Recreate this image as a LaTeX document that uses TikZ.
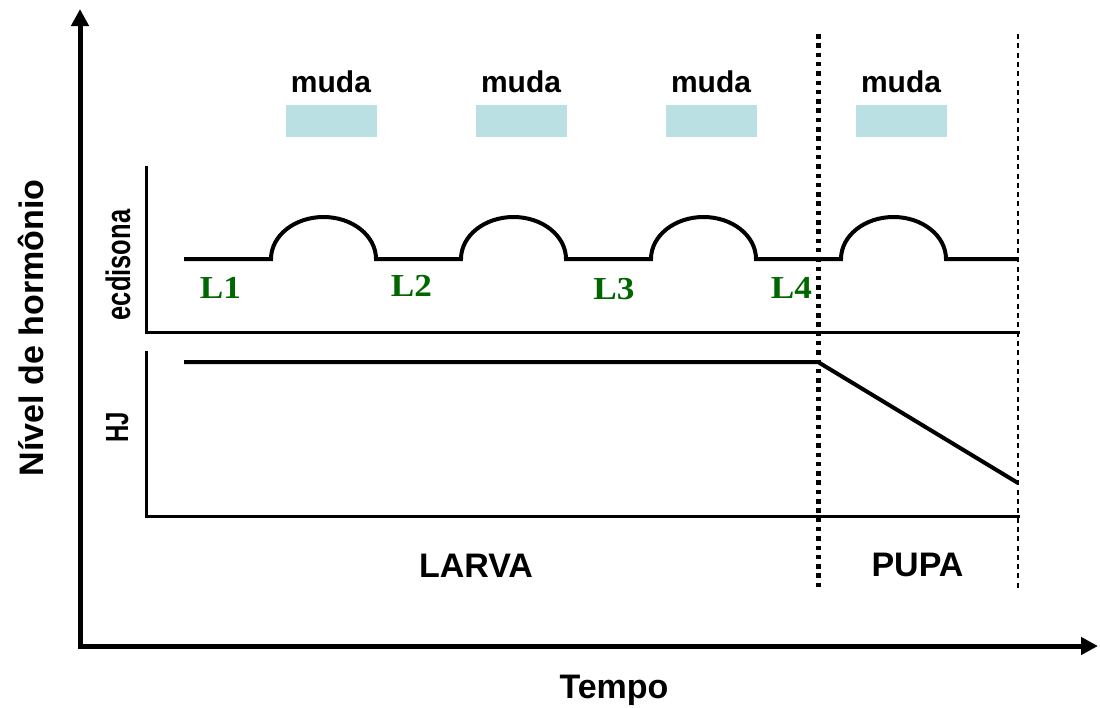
\documentclass[tikz,border=0pt]{standalone}
\usepackage{fontspec}
\setmainfont{Liberation Sans}
\newfontfamily\narrowsans[FakeStretch=0.75]{Liberation Sans}
\newfontfamily\stagefont[FakeStretch=1.1]{Liberation Serif}
\usetikzlibrary{arrows.meta,positioning}
\definecolor{mudablue}{HTML}{BBE0E3}
\definecolor{stagegreen}{HTML}{006600}
\tikzset{
    axis/.style={line width=5pt, -{Triangle[length=17pt,width=17pt]}},
    frame/.style={line width=3pt, line cap=rect},
    curve/.style={line width=4pt},
    mudabox/.style={fill=mudablue, minimum width=91pt, minimum height=32pt, inner sep=0pt},
    stage/.style={text=stagegreen, font=\stagefont\bfseries\fontsize{32}{36}\selectfont, anchor=base},
    bigtext/.style={font=\bfseries\fontsize{34}{40}\selectfont, anchor=base}
}
\begin{document}
\begin{tikzpicture}[x=1pt, y=-1pt]
    \useasboundingbox (0,0) rectangle (1100,707);

    % Main axes
    \coordinate (origin) at (80,646);
    \coordinate (ytop) at (80,9);
    \coordinate (xend) at (1098,646);
    \draw[axis, {Triangle[length=17pt,width=17pt]}-{Triangle[length=17pt,width=17pt]}] (ytop) -- (origin) -- (xend);
    \node[bigtext, rotate=90] (nivel) at (43,328) {Nível de hormônio};
    \node[bigtext] (tempo) at (614,698) {Tempo};

    % Molts
    \foreach \i in {0,...,3} {
        \node[mudabox] (box\i) at (331.5+190*\i,121) {};
        \node[font=\bfseries\fontsize{30}{36}\selectfont, anchor=base] (muda\i) at (331+190*\i,92) {muda};
    }

    % Ecdysone panel
    \draw[frame] (146,167) -- (146,332) -- (1018,332);
    \node[font=\narrowsans\bfseries\fontsize{34}{40}\selectfont, rotate=90, anchor=base] (ecd) at (130,265) {ecdisona};
    \draw[curve] (184,259) -- (271,259)
        arc[start angle=180, end angle=360, x radius=52.5, y radius=42] -- (461,259)
        arc[start angle=180, end angle=360, x radius=52.5, y radius=42] -- (651,259)
        arc[start angle=180, end angle=360, x radius=52.5, y radius=42] -- (841,259)
        arc[start angle=180, end angle=360, x radius=52.5, y radius=42] -- (1018,259);
    \node[stage] (L1) at (220.5,298) {L1};
    \node[stage] (L2) at (411.5,296) {L2};
    \node[stage] (L3) at (614,299) {L3};
    \node[stage] (L4) at (791.5,298) {L4};

    % Juvenile hormone panel
    \draw[frame] (146,352) -- (146,516) -- (1018,516);
    \node[font=\narrowsans\bfseries\fontsize{32}{38}\selectfont, rotate=90, anchor=base] (hj) at (128,427.5) {HJ};
    \coordinate (hjstart) at (184,362);
    \coordinate (hjturn) at (818,362);
    \coordinate (hjend) at (1018,483);
    \draw[curve] (hjstart) -- (hjturn) -- (hjend);

    % Stage limits
    \draw[line width=5pt, dash pattern=on 4.5pt off 4.8pt] (818,34) -- (818,588);
    \draw[line width=1.3pt, dash pattern=on 5pt off 4.3pt] (1018,34) -- (1018,588);
    \node[bigtext] (larva) at (476,577) {LARVA};
    \node[bigtext] (pupa) at (917.5,576) {PUPA};
\end{tikzpicture}
\end{document}
